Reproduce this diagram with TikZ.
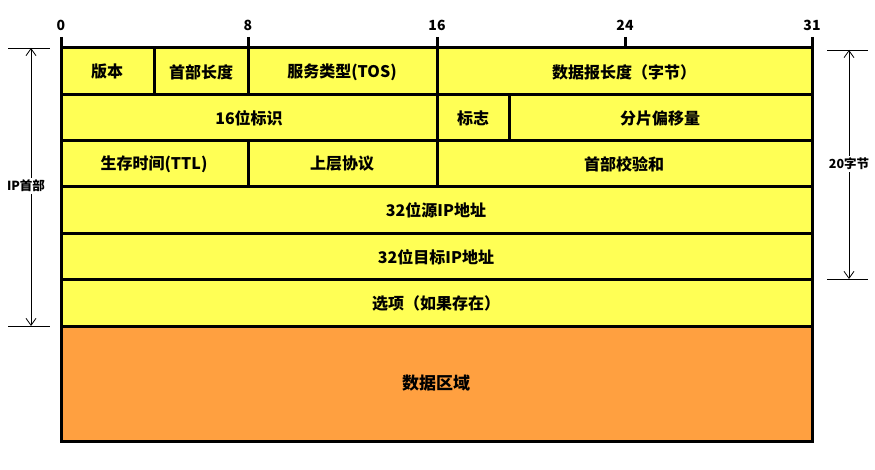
\documentclass[tikz,border=0pt]{standalone}
\usepackage{fontspec}
\usetikzlibrary{arrows.meta}
\setmainfont{Noto Sans CJK SC}
\begin{document}
\begin{tikzpicture}[x=1pt,y=-1pt,
  cell/.style={draw=black,line width=3pt},
  lbl/.style={font=\bfseries\fontsize{16}{16}\selectfont,inner sep=0pt},
  thin/.style={line width=0.8pt},
  dim/.style={thin,-{Straight Barb[length=7pt,width=10pt]}}]
\useasboundingbox (0,0) rectangle (875,470);
\fill[fill={rgb,255:red,255;green,255;blue,85}] (61,48) rectangle (812,326);
\fill[fill={rgb,255:red,255;green,160;blue,64}] (61,326) rectangle (812,441);
% grid
\draw[cell] (61,48) rectangle (812,441);
\foreach \y in {95,141,187,234,280,326} \draw[cell] (61,\y) -- (812,\y);
\draw[cell] (154,48) -- (154,95);
\draw[cell] (248,48) -- (248,95);
\draw[cell] (437,48) -- (437,187);
\draw[cell] (509,95) -- (509,141);
\draw[cell] (248,141) -- (248,187);
% ticks
\foreach \x/\t in {61/0,248/8,437/16,625/24,812/31}{
  \draw[line width=3pt] (\x,37) -- (\x,48);
  \node[lbl,font=\bfseries\fontsize{14}{14}\selectfont] (t\t) at (\x,25) {\t};}
% labels
\node[lbl] (a) at (107,72) {版本};
\node[lbl] (b) at (201,72) {首部长度};
\node[lbl] (c) at (342,72) {服务类型(TOS)};
\node[lbl] (d) at (624,72) {数据报长度（字节）};
\node[lbl] (e) at (249,118) {16位标识};
\node[lbl] (f) at (473,118) {标志};
\node[lbl] (g) at (660,118) {分片偏移量};
\node[lbl] (h) at (154,164) {生存时间(TTL)};
\node[lbl] (i) at (342,164) {上层协议};
\node[lbl] (j) at (624,164) {首部校验和};
\node[lbl] (k) at (436,210) {32位源IP地址};
\node[lbl] (l) at (436,257) {32位目标IP地址};
\node[lbl] (m) at (436,303) {选项（如果存在）};
\node[lbl,font=\bfseries\fontsize{17}{17}\selectfont] (n) at (436,383) {数据区域};
% dimensions
\draw[thin] (8,48) -- (50,48);
\draw[thin] (8,326) -- (50,326);
\node[inner sep=2pt,font=\bfseries\fontsize{12.5}{12.5}\selectfont] (ip) at (26,186) {IP首部};
\coordinate (lt) at (31,48); \coordinate (lb) at (31,326);
\draw[dim] (ip.north -| lt) -- (lt);
\draw[dim] (ip.south -| lt) -- (lb);
\draw[thin] (827,50) -- (868,50);
\draw[thin] (827,279) -- (868,279);
\node[inner sep=2pt,font=\bfseries\fontsize{12.5}{12.5}\selectfont] (zj) at (849,164) {20字节};
\coordinate (rt) at (849,50); \coordinate (rb) at (849,279);
\draw[dim] (zj.north -| rt) -- (rt);
\draw[dim] (zj.south -| rt) -- (rb);
\end{tikzpicture}
\end{document}
